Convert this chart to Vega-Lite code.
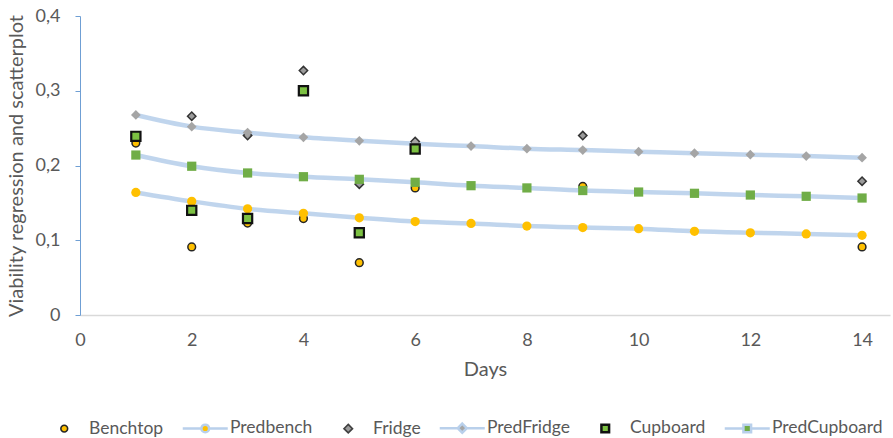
{
  "$schema": "https://vega.github.io/schema/vega-lite/v6.json",
  "width": 810,
  "height": 299,
  "autosize": {"type": "none"},
  "padding": {"left": 80, "top": 16, "right": 3, "bottom": 123},
  "background": "white",
  "config": {
    "view": {"stroke": null},
    "font": "Lato",
    "axis": {"labelFont": "Lato", "titleFont": "Lato", "labelColor": "#595959", "titleColor": "#595959", "labelFontSize": 18, "titleFontSize": 20, "titleFontWeight": "normal", "grid": false},
    "legend": {"labelFont": "Lato", "labelFontSize": 17.5, "labelColor": "#595959", "padding": 0}
  },
  "data": {"values": [
    {"day": 1, "series": "Benchtop", "v": 0.23},
    {"day": 2, "series": "Benchtop", "v": 0.091},
    {"day": 3, "series": "Benchtop", "v": 0.123},
    {"day": 4, "series": "Benchtop", "v": 0.129},
    {"day": 5, "series": "Benchtop", "v": 0.07},
    {"day": 6, "series": "Benchtop", "v": 0.17},
    {"day": 9, "series": "Benchtop", "v": 0.172},
    {"day": 14, "series": "Benchtop", "v": 0.091},
    {"day": 1, "series": "Predbench", "v": 0.164},
    {"day": 2, "series": "Predbench", "v": 0.152},
    {"day": 3, "series": "Predbench", "v": 0.142},
    {"day": 4, "series": "Predbench", "v": 0.136},
    {"day": 5, "series": "Predbench", "v": 0.13},
    {"day": 6, "series": "Predbench", "v": 0.125},
    {"day": 7, "series": "Predbench", "v": 0.1225},
    {"day": 8, "series": "Predbench", "v": 0.119},
    {"day": 9, "series": "Predbench", "v": 0.117},
    {"day": 10, "series": "Predbench", "v": 0.1155},
    {"day": 11, "series": "Predbench", "v": 0.112},
    {"day": 12, "series": "Predbench", "v": 0.11},
    {"day": 13, "series": "Predbench", "v": 0.1085},
    {"day": 14, "series": "Predbench", "v": 0.1066},
    {"day": 2, "series": "Fridge", "v": 0.266},
    {"day": 3, "series": "Fridge", "v": 0.24},
    {"day": 4, "series": "Fridge", "v": 0.327},
    {"day": 5, "series": "Fridge", "v": 0.175},
    {"day": 6, "series": "Fridge", "v": 0.232},
    {"day": 9, "series": "Fridge", "v": 0.24},
    {"day": 14, "series": "Fridge", "v": 0.179},
    {"day": 1, "series": "PredFridge", "v": 0.2676},
    {"day": 2, "series": "PredFridge", "v": 0.252},
    {"day": 3, "series": "PredFridge", "v": 0.244},
    {"day": 4, "series": "PredFridge", "v": 0.2377},
    {"day": 5, "series": "PredFridge", "v": 0.233},
    {"day": 6, "series": "PredFridge", "v": 0.229},
    {"day": 7, "series": "PredFridge", "v": 0.226},
    {"day": 8, "series": "PredFridge", "v": 0.2225},
    {"day": 9, "series": "PredFridge", "v": 0.2207},
    {"day": 10, "series": "PredFridge", "v": 0.2185},
    {"day": 11, "series": "PredFridge", "v": 0.2165},
    {"day": 12, "series": "PredFridge", "v": 0.2145},
    {"day": 13, "series": "PredFridge", "v": 0.2127},
    {"day": 14, "series": "PredFridge", "v": 0.2105},
    {"day": 1, "series": "Cupboard", "v": 0.239},
    {"day": 2, "series": "Cupboard", "v": 0.14},
    {"day": 3, "series": "Cupboard", "v": 0.129},
    {"day": 4, "series": "Cupboard", "v": 0.3},
    {"day": 5, "series": "Cupboard", "v": 0.11},
    {"day": 6, "series": "Cupboard", "v": 0.222},
    {"day": 1, "series": "PredCupboard", "v": 0.214},
    {"day": 2, "series": "PredCupboard", "v": 0.199},
    {"day": 3, "series": "PredCupboard", "v": 0.19},
    {"day": 4, "series": "PredCupboard", "v": 0.185},
    {"day": 5, "series": "PredCupboard", "v": 0.1815},
    {"day": 6, "series": "PredCupboard", "v": 0.1775},
    {"day": 7, "series": "PredCupboard", "v": 0.173},
    {"day": 8, "series": "PredCupboard", "v": 0.17},
    {"day": 9, "series": "PredCupboard", "v": 0.1665},
    {"day": 10, "series": "PredCupboard", "v": 0.1645},
    {"day": 11, "series": "PredCupboard", "v": 0.1628},
    {"day": 12, "series": "PredCupboard", "v": 0.1605},
    {"day": 13, "series": "PredCupboard", "v": 0.1588},
    {"day": 14, "series": "PredCupboard", "v": 0.1565}
  ]},
  "encoding": {
    "x": {"field": "day", "type": "quantitative", "scale": {"domain": [0, 14.5], "nice": false},
      "axis": {"title": "Days", "values": [0, 2, 4, 6, 8, 10, 12, 14], "ticks": false, "domainColor": "#d9d9d9", "domainWidth": 1.5, "labelPadding": 16, "titlePadding": 10, "labelFlush": false}},
    "y": {"field": "v", "type": "quantitative", "scale": {"domain": [0, 0.4], "nice": false},
      "axis": {"title": "Viability regression and scatterplot", "values": [0, 0.1, 0.2, 0.3, 0.4], "labelExpr": "datum.value == 0 ? '0' : replace(format(datum.value, '.1f'), '.', ',')", "domainColor": "#6f9fd4", "tickColor": "#6f9fd4", "tickSize": 5, "labelPadding": 15, "titlePadding": 9}}
  },
  "layer": [
    {
      "transform": [{"filter": "indexof(['Predbench','PredFridge','PredCupboard'], datum.series) >= 0"}],
      "mark": {"type": "line", "stroke": "#b9d0eb", "strokeWidth": 4.5, "interpolate": "monotone", "opacity": 0.9},
      "encoding": {"detail": {"field": "series"}}
    },
    {
      "mark": {"type": "point", "filled": true, "opacity": 0},
      "encoding": {
        "fill": {"field": "series", "type": "nominal", "scale": {"domain": ["Benchtop", "Predbench", "Fridge", "PredFridge", "Cupboard", "PredCupboard"], "range": ["#ffc000", "#ffc000", "#9b9b9b", "#a5a5a5", "#7cc142", "#70ad47"]},
          "legend": {"orient": "none", "legendX": -38, "legendY": 403, "direction": "horizontal", "title": null, "symbolSize": 2025, "symbolOffset": 13.5, "labelOffset": 16, "columnPadding": 13, "symbolOpacity": 1,
            "encode": {"symbols": {"update": {"strokeWidth": {"signal": "datum.value == 'Cupboard' ? 2.5 : (indexof(['Predbench','PredFridge','PredCupboard'], datum.value) >= 0 ? 2.5 : 1.6)"}, "opacity": {"value": 1}}}}}},
        "stroke": {"field": "series", "type": "nominal", "scale": {"domain": ["Benchtop", "Predbench", "Fridge", "PredFridge", "Cupboard", "PredCupboard"], "range": ["#262626", "#b9d0eb", "#404040", "#b9d0eb", "#111111", "#b9d0eb"]}},
        "shape": {"field": "series", "type": "nominal", "scale": {"domain": ["Benchtop", "Predbench", "Fridge", "PredFridge", "Cupboard", "PredCupboard"], "range": [
          "M 0.15 0 A 0.15 0.15 0 1 1 -0.15 0 A 0.15 0.15 0 1 1 0.15 0 Z",
          "M -1 0 L -0.17 0 M 0.17 0 L 1 0 M 0.17 0 A 0.17 0.17 0 1 1 -0.17 0 A 0.17 0.17 0 1 1 0.17 0 Z",
          "M 0 -0.19 L 0.19 0 L 0 0.19 L -0.19 0 Z",
          "M -1 0 L -0.2 0 M 0.2 0 L 1 0 M 0 -0.2 L 0.2 0 L 0 0.2 L -0.2 0 Z",
          "M -0.17 -0.17 L 0.17 -0.17 L 0.17 0.17 L -0.17 0.17 Z",
          "M -1 0 L -0.17 0 M 0.17 0 L 1 0 M -0.17 -0.17 L 0.17 -0.17 L 0.17 0.17 L -0.17 0.17 Z"
        ]}}
      }
    },
    {
      "transform": [{"filter": "datum.series == 'Benchtop'"}],
      "mark": {"type": "point", "shape": "circle", "filled": true, "fill": "#ffc000", "stroke": "#262626", "strokeWidth": 1.5, "size": 60, "opacity": 1}
    },
    {
      "transform": [{"filter": "datum.series == 'Predbench'"}],
      "mark": {"type": "point", "shape": "circle", "filled": true, "fill": "#ffc000", "size": 85, "opacity": 1}
    },
    {
      "transform": [{"filter": "datum.series == 'Fridge'"}],
      "mark": {"type": "point", "shape": "diamond", "filled": true, "fill": "#9b9b9b", "stroke": "#333333", "strokeWidth": 1.5, "size": 70, "opacity": 1}
    },
    {
      "transform": [{"filter": "datum.series == 'PredFridge'"}],
      "mark": {"type": "point", "shape": "diamond", "filled": true, "fill": "#a5a5a5", "size": 95, "opacity": 1}
    },
    {
      "transform": [{"filter": "datum.series == 'Cupboard'"}],
      "mark": {"type": "point", "shape": "square", "filled": true, "fill": "#7cc142", "stroke": "#111111", "strokeWidth": 2.2, "size": 85, "opacity": 1}
    },
    {
      "transform": [{"filter": "datum.series == 'PredCupboard'"}],
      "mark": {"type": "point", "shape": "square", "filled": true, "fill": "#70ad47", "size": 85, "opacity": 1}
    }
  ]
}
